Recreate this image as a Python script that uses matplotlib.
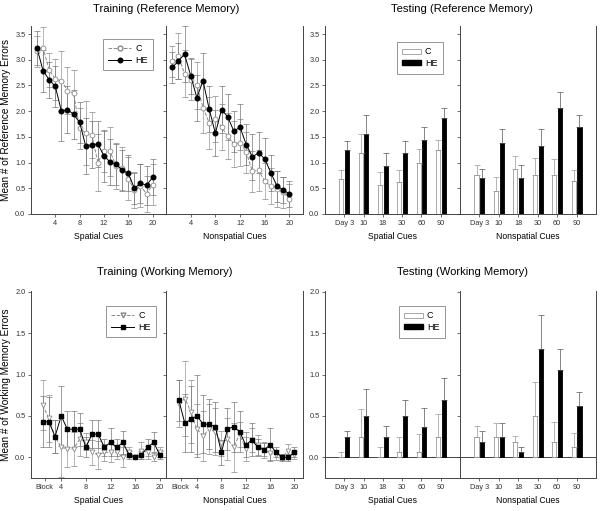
import numpy as np
import matplotlib
matplotlib.use('Agg')
import matplotlib.pyplot as plt
from matplotlib.lines import Line2D
from matplotlib.patches import Patch

plt.rcParams['font.family'] = ['Liberation Sans', 'DejaVu Sans']

#-------------------------------------- data
blocks = np.arange(1, 21)
days   = ['Day 3', '10', '18', '30', '60', '90']

# training, reference memory
sp_ref_c      = [3.16,3.22,2.80,2.62,2.59,2.40,2.35,1.67,1.57,1.54,1.00,1.22,1.22,0.93,0.89,0.69,0.46,0.55,0.39,0.57]
sp_ref_c_err  = [0.30,0.42,0.33,0.40,0.58,0.45,0.45,0.40,0.62,0.45,0.55,0.40,0.48,0.45,0.42,0.42,0.35,0.42,0.35,0.40]
sp_ref_he     = [3.22,2.78,2.61,2.48,2.00,2.03,1.94,1.78,1.32,1.35,1.36,1.13,1.01,0.97,0.85,0.79,0.50,0.60,0.56,0.71]
sp_ref_he_err = [0.33,0.40,0.35,0.40,0.58,0.45,0.48,0.40,0.55,0.45,0.45,0.50,0.45,0.40,0.40,0.35,0.30,0.38,0.38,0.35]
ns_ref_c      = [2.97,3.07,2.73,2.61,2.50,2.07,1.77,1.85,1.69,1.51,1.36,1.39,1.20,0.83,0.85,0.64,0.54,0.49,0.42,0.29]
ns_ref_c_err  = [0.30,0.45,0.45,0.40,0.45,0.50,0.50,0.45,0.45,0.45,0.45,0.45,0.40,0.40,0.40,0.35,0.35,0.35,0.30,0.30]
ns_ref_he     = [2.85,2.97,3.11,2.69,2.26,2.59,2.04,1.57,2.03,1.89,1.61,1.69,1.35,1.11,1.19,1.07,0.80,0.54,0.47,0.39]
ns_ref_he_err = [0.30,0.35,0.55,0.35,0.45,0.55,0.45,0.45,0.45,0.45,0.40,0.45,0.40,0.45,0.40,0.40,0.35,0.30,0.25,0.25]

# training, working memory
sp_wm_c      = [0.63,0.47,0.25,0.12,0.10,0.10,0.22,0.19,0.06,0.03,0.06,0.06,0.06,0.00,0.06,0.00,0.08,0.06,0.00,0.06]
sp_wm_c_err  = [0.30,0.28,0.20,0.36,0.22,0.20,0.20,0.10,0.15,0.17,0.10,0.12,0.08,0.12,0.06,0.00,0.10,0.08,0.05,0.06]
sp_wm_he     = [0.43,0.43,0.25,0.50,0.34,0.34,0.34,0.12,0.28,0.28,0.12,0.18,0.12,0.18,0.03,0.00,0.03,0.12,0.18,0.03]
sp_wm_he_err = [0.31,0.30,0.20,0.36,0.22,0.22,0.20,0.12,0.17,0.17,0.10,0.17,0.10,0.14,0.05,0.00,0.05,0.10,0.12,0.05]
ns_wm_c      = [0.65,0.71,0.55,0.34,0.26,0.34,0.31,0.17,0.22,0.12,0.28,0.10,0.21,0.15,0.09,0.05,0.03,0.00,0.08,0.03]
ns_wm_c_err  = [0.28,0.45,0.38,0.30,0.30,0.30,0.28,0.15,0.25,0.30,0.15,0.15,0.15,0.12,0.10,0.08,0.06,0.03,0.08,0.05]
ns_wm_he     = [0.69,0.41,0.46,0.50,0.40,0.40,0.37,0.06,0.34,0.37,0.31,0.15,0.21,0.12,0.09,0.15,0.06,0.00,0.00,0.06]
ns_wm_he_err = [0.25,0.35,0.40,0.50,0.35,0.30,0.30,0.15,0.25,0.30,0.25,0.15,0.20,0.10,0.08,0.20,0.06,0.04,0.04,0.06]

# testing
tsp_ref_c  = [0.69,1.18,0.56,0.62,1.00,1.25]; tsp_ref_c_err  = [0.16,0.37,0.25,0.24,0.27,0.19]
tsp_ref_he = [1.25,1.56,0.93,1.18,1.44,1.87]; tsp_ref_he_err = [0.16,0.37,0.26,0.24,0.26,0.20]
tns_ref_c  = [0.76,0.45,0.87,0.76,0.76,0.64]; tns_ref_c_err  = [0.19,0.26,0.26,0.33,0.31,0.22]
tns_ref_he = [0.70,1.38,0.70,1.33,2.06,1.69]; tns_ref_he_err = [0.18,0.27,0.25,0.33,0.32,0.23]
tsp_wm_c   = [0.00,0.25,0.00,0.06,0.06,0.25]; tsp_wm_c_err   = [0.06,0.33,0.13,0.19,0.22,0.27]
tsp_wm_he  = [0.25,0.50,0.25,0.50,0.37,0.69]; tsp_wm_he_err  = [0.07,0.33,0.13,0.19,0.23,0.27]
tns_wm_c   = [0.25,0.25,0.19,0.50,0.19,0.12]; tns_wm_c_err   = [0.13,0.17,0.07,0.41,0.24,0.17]
tns_wm_he  = [0.18,0.25,0.06,1.31,1.06,0.62]; tns_wm_he_err  = [0.14,0.17,0.07,0.41,0.25,0.17]

#-------------------------------------- layout helpers
W, H = 600, 511
fig = plt.figure(figsize=(6, 5.11), dpi=100)
fs_tick, fs_lab, fs_title = 5.3, 6.2, 8.1
spc = '#444444'
gray = '#8a8a8a'

def px(l, t, r, b):
    return fig.add_axes([l/W, 1-b/H, (r-l)/W, (b-t)/H])

def style(ax, left_labels, right_frame):
    ax.spines['top'].set_visible(False)
    ax.spines['right'].set_visible(right_frame)
    for s in ax.spines.values():
        s.set_color(spc); s.set_linewidth(0.7)
    ax.tick_params(labelsize=fs_tick, length=2.5, width=0.5, pad=1.5, colors='#333333')
    if not left_labels:
        ax.tick_params(axis='y', labelleft=False)

def lines(ax, c, ce, he, hee, mk):
    ax.errorbar(blocks, c, yerr=ce, color=gray, ecolor='#9a9a9a', lw=0.7, ls='--',
                marker=mk, ms=3.5, mfc='white', mec=gray, mew=0.6, capsize=2.2, elinewidth=0.5, capthick=0.5)
    ax.errorbar(blocks, he, yerr=hee, color='black', ecolor='#777777', lw=0.7,
                marker='o' if mk == 'o' else 's', ms=3.3, mfc='black', mec='black',
                capsize=2.2, elinewidth=0.5, capthick=0.5)

def bars(ax, c, ce, he, hee):
    x = np.arange(len(days))
    w = 0.21
    ax.bar(x-0.15, c, w, color='white', edgecolor='#999999', lw=0.6,
           yerr=[np.zeros(len(c)), ce], error_kw=dict(ecolor='#999999', elinewidth=0.5, capsize=2, capthick=0.5))
    ax.bar(x+0.15, he, w, color='black', edgecolor='black', lw=0.6,
           yerr=[np.zeros(len(he)), hee], error_kw=dict(ecolor='#555555', elinewidth=0.5, capsize=2, capthick=0.5))
    ax.set_xticks(x)
    ax.set_xticklabels(days)
    ax.set_xlim(-1, 6)

#-------------------------------------- top row
top_t, top_b = 26.3, 214
ax1 = px(31, top_t, 166, top_b)
ax2 = px(166, top_t, 303, top_b)
ax3 = px(325, top_t, 460, top_b)
ax4 = px(460, top_t, 596, top_b)

lines(ax1, sp_ref_c, sp_ref_c_err, sp_ref_he, sp_ref_he_err, 'o')
lines(ax2, ns_ref_c, ns_ref_c_err, ns_ref_he, ns_ref_he_err, 'o')
bars(ax3, tsp_ref_c, tsp_ref_c_err, tsp_ref_he, tsp_ref_he_err)
bars(ax4, tns_ref_c, tns_ref_c_err, tns_ref_he, tns_ref_he_err)

for ax in (ax1, ax2):
    ax.set_xlim(0, 22.2)
    ax.set_xticks([4, 8, 12, 16, 20])
for ax in (ax1, ax2, ax3, ax4):
    ax.set_ylim(0, 3.65)
    ax.set_yticks(np.arange(0, 3.51, 0.5))
    ax.set_yticklabels(['%.1f' % v for v in np.arange(0, 3.51, 0.5)])
style(ax1, True, False); style(ax2, False, True)
style(ax3, True, False); style(ax4, False, True)
ax1.set_ylabel('Mean # of Reference Memory Errors', fontsize=7.2, labelpad=3)

#-------------------------------------- bottom row
bot_t, bot_b = 291, 478
ax5 = px(31, bot_t, 166, bot_b)
ax6 = px(166, bot_t, 303, bot_b)
ax7 = px(325, bot_t, 460, bot_b)
ax8 = px(460, bot_t, 596, bot_b)

lines(ax5, sp_wm_c, sp_wm_c_err, sp_wm_he, sp_wm_he_err, 'v')
lines(ax6, ns_wm_c, ns_wm_c_err, ns_wm_he, ns_wm_he_err, 'v')
bars(ax7, tsp_wm_c, tsp_wm_c_err, tsp_wm_he, tsp_wm_he_err)
bars(ax8, tns_wm_c, tns_wm_c_err, tns_wm_he, tns_wm_he_err)

ax5.set_xlim(-0.9, 21.0)
ax6.set_xlim(-1.1, 21.4)
for ax in (ax5, ax6):
    ax.set_xticks([1.3, 4, 8, 12, 16, 20])
    ax.set_xticklabels(['Block', '4', '8', '12', '16', '20'])
for ax in (ax5, ax6, ax7, ax8):
    ax.set_ylim(-0.25, 2.01)
    ax.set_yticks([0, 0.5, 1.0, 1.5, 2.0])
    ax.set_yticklabels(['0.0', '0.5', '1.0', '1.5', '2.0'])
for ax in (ax7, ax8):
    ax.axhline(0, color=spc, lw=0.7, zorder=0)
style(ax5, True, False); style(ax6, False, True)
style(ax7, True, False); style(ax8, False, True)
ax5.set_ylabel('Mean # of Working Memory Errors', fontsize=7.2, labelpad=3)

for ax, lab in zip((ax1, ax2, ax3, ax4, ax5, ax6, ax7, ax8),
                   ['Spatial Cues', 'Nonspatial Cues'] * 4):
    ax.set_xlabel(lab, fontsize=fs_lab, labelpad=4)

#-------------------------------------- titles
fig.text(166/W, 1-9/H, 'Training (Reference Memory)', ha='center', va='center', fontsize=fs_title)
fig.text(462/W, 1-9/H, 'Testing (Reference Memory)', ha='center', va='center', fontsize=fs_title)
fig.text(165/W, 1-272/H, 'Training (Working Memory)', ha='center', va='center', fontsize=fs_title)
fig.text(463/W, 1-272/H, 'Testing (Working Memory)', ha='center', va='center', fontsize=fs_title)

#-------------------------------------- legends
def line_legend(ax, x, y, mk):
    h = [Line2D([], [], color=gray, ls='--', lw=0.7, marker=mk, ms=3.5, mfc='white', mec=gray),
         Line2D([], [], color='black', lw=0.7, marker='o' if mk == 'o' else 's', ms=3.3, mfc='black')]
    lg = ax.legend(h, ['C', 'HE'], loc='upper left', bbox_to_anchor=(x/W, 1-y/H),
                   bbox_transform=fig.transFigure, fontsize=6.5, fancybox=False,
                   handlelength=2.6, borderaxespad=0, borderpad=0.55, labelspacing=0.3, handletextpad=0.4)
    lg.get_frame().set_edgecolor('#666666'); lg.get_frame().set_linewidth(0.6)

def bar_legend(ax, x, y):
    h = [Patch(facecolor='white', edgecolor='#999999', lw=0.6),
         Patch(facecolor='black', edgecolor='black')]
    lg = ax.legend(h, ['C', 'HE'], loc='upper left', bbox_to_anchor=(x/W, 1-y/H),
                   bbox_transform=fig.transFigure, fontsize=6.5, fancybox=False,
                   handlelength=2.1, handleheight=0.5, borderaxespad=0, borderpad=0.6,
                   labelspacing=0.3, handletextpad=0.4)
    lg.get_frame().set_edgecolor('#666666'); lg.get_frame().set_linewidth(0.6)

line_legend(ax1, 103, 39, 'o')
bar_legend(ax3, 397, 42)
line_legend(ax5, 106, 306, 'v')
bar_legend(ax7, 399, 306)

fig.savefig('out.png', dpi=100)
